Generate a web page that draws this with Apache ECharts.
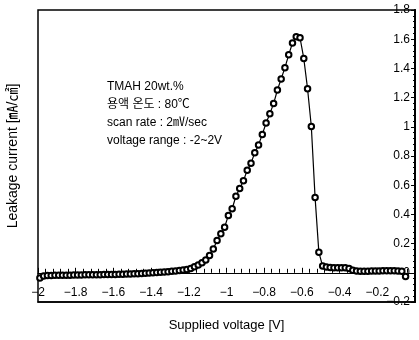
<!DOCTYPE html>
<html>
<head>
<meta charset="utf-8">
<script src="https://cdn.jsdelivr.net/npm/echarts@6/dist/echarts.min.js"></script>
<style>
  html, body { margin: 0; padding: 0; background: #fff; }
  #chart { width: 419px; height: 340px; }
</style>
</head>
<body>
<div id="chart"></div>
<script>
// 인가 전압 [V]
const voltage = [
  -1.99, -1.97, -1.95, -1.93, -1.91, -1.89, -1.87, -1.85, -1.83, -1.81,
  -1.79, -1.77, -1.75, -1.73, -1.71, -1.69, -1.67, -1.65, -1.63, -1.61,
  -1.59, -1.57, -1.55, -1.53, -1.51, -1.49, -1.47, -1.45, -1.43, -1.41,
  -1.39, -1.37, -1.35, -1.33, -1.31, -1.29, -1.27, -1.25,
  -1.23, -1.21, -1.19, -1.17, -1.15, -1.13, -1.11, -1.09, -1.07, -1.05,
  -1.03, -1.01, -0.99, -0.97, -0.95, -0.93, -0.91, -0.89, -0.87, -0.85,
  -0.83, -0.81, -0.79, -0.77, -0.75, -0.73, -0.71, -0.69, -0.67, -0.65,
  -0.63, -0.61, -0.59, -0.57, -0.55, -0.53, -0.51, -0.49,
  -0.47, -0.45, -0.43, -0.41, -0.39, -0.37, -0.35, -0.33, -0.31, -0.29,
  -0.27, -0.25, -0.23, -0.21, -0.19, -0.17, -0.15, -0.13, -0.11, -0.09,
  -0.07, -0.05
]
// 누설 전류 [mA/cm2]
const current = [
  -0.035, -0.022, -0.018, -0.018, -0.017, -0.017, -0.016, -0.016, -0.016, -0.015,
  -0.015, -0.015, -0.014, -0.014, -0.013, -0.013, -0.013, -0.012, -0.012, -0.011,
  -0.011, -0.010, -0.010, -0.009, -0.008, -0.007, -0.006, -0.004, -0.003, -0.001,
  0.000, 0.002, 0.004, 0.006, 0.008, 0.010, 0.012, 0.015,
  0.019, 0.023, 0.030, 0.041, 0.053, 0.068, 0.088, 0.118, 0.163, 0.221,
  0.267, 0.312, 0.393, 0.439, 0.524, 0.577, 0.630, 0.703, 0.750, 0.823,
  0.876, 0.948, 1.026, 1.090, 1.159, 1.252, 1.328, 1.405, 1.493, 1.574,
  1.617, 1.610, 1.468, 1.261, 1.002, 0.515, 0.140, 0.046,
  0.040, 0.036, 0.035, 0.035, 0.034, 0.034, 0.030, 0.018, 0.012, 0.010,
  0.010, 0.011, 0.012, 0.013, 0.013, 0.014, 0.014, 0.014, 0.014, 0.013,
  0.010, -0.025
]
// 조건 표기
const notes = [
  'TMAH 20wt.%',
  '용액 온도 : 80℃',
  'scan rate : 2㎷/sec',
  'voltage range : -2~2V'
]

const font = "'Liberation Sans', Arial, 'Noto Sans CJK KR', sans-serif"
const fmt = v => {
  if (Math.abs(v) < 1e-9) return '0'
  return String(+v.toFixed(1)).replace('-', '−')
}

const chart = echarts.init(document.getElementById('chart'))
const option = {
  animation: false,
  grid: {
    left: 38,
    right: 4,
    top: 10,
    bottom: 38,
    containLabel: false,
    outerBoundsMode: 'none',
    show: true,
    borderColor: '#000',
    borderWidth: 1.5
  },
  xAxis: [
    {
      // y=0 기준선 + 눈금
      type: 'value',
      position: 'bottom',
      min: -2,
      max: 0,
      interval: 0.2,
      axisLine: { onZero: true, lineStyle: { color: '#000', width: 1.2 } },
      axisTick: { inside: true, length: 5, lineStyle: { color: '#000' } },
      minorTick: { show: true, splitNumber: 5, length: 4, lineStyle: { color: '#000' } },
      splitLine: { show: false },
      axisLabel: { show: false }
    },
    {
      // 하단 테두리 + 라벨 + 축 이름
      type: 'value',
      position: 'bottom',
      min: -2,
      max: 0,
      interval: 0.2,
      name: 'Supplied voltage [V]',
      nameLocation: 'middle',
      nameGap: 17,
      nameTextStyle: { color: '#000', fontSize: 13, fontFamily: font },
      axisLine: { onZero: false, lineStyle: { color: '#000', width: 1.5 } },
      axisTick: { show: false },
      splitLine: { show: false },
      axisLabel: {
        inside: true,
        margin: 3,
        color: '#000',
        fontSize: 12,
        fontFamily: font,
        formatter: v => (Math.abs(v) < 1e-9 ? '' : fmt(v))
      }
    }
  ],
  yAxis: [
    {
      type: 'value',
      position: 'right',
      min: -0.2,
      max: 1.8,
      interval: 0.2,
      axisLine: { show: true, lineStyle: { color: '#000', width: 1.5 } },
      axisTick: { show: true, inside: true, length: 4, lineStyle: { color: '#000' } },
      minorTick: { show: true, splitNumber: 5, length: 2, lineStyle: { color: '#000' } },
      splitLine: { show: false },
      axisLabel: {
        inside: true,
        margin: 5,
        color: '#000',
        fontSize: 12,
        fontFamily: font,
        formatter: fmt
      }
    },
    {
      type: 'value',
      position: 'left',
      min: -0.2,
      max: 1.8,
      interval: 0.2,
      name: 'Leakage current [㎃/㎠]',
      nameLocation: 'middle',
      nameGap: 18,
      nameTextStyle: { color: '#000', fontSize: 14, fontFamily: font },
      axisLine: { show: true, lineStyle: { color: '#000', width: 2 } },
      axisTick: { show: false },
      axisLabel: { show: false },
      splitLine: { show: false }
    }
  ],
  graphic: notes.map((t, i) => ({
    type: 'text',
    left: 107,
    top: 81 + i * 18,
    style: { text: t, fill: '#000', fontSize: 12, fontFamily: font }
  })),
  series: [
    {
      type: 'line',
      xAxisIndex: 0,
      yAxisIndex: 0,
      data: voltage.map((v, i) => [v, current[i]]),
      symbol: 'emptyCircle',
      symbolSize: 5.5,
      showAllSymbol: true,
      lineStyle: { color: '#000', width: 1.2 },
      itemStyle: { color: '#000', borderColor: '#000', borderWidth: 1.2 }
    }
  ]
}
chart.setOption(option)
</script>
</body>
</html>
